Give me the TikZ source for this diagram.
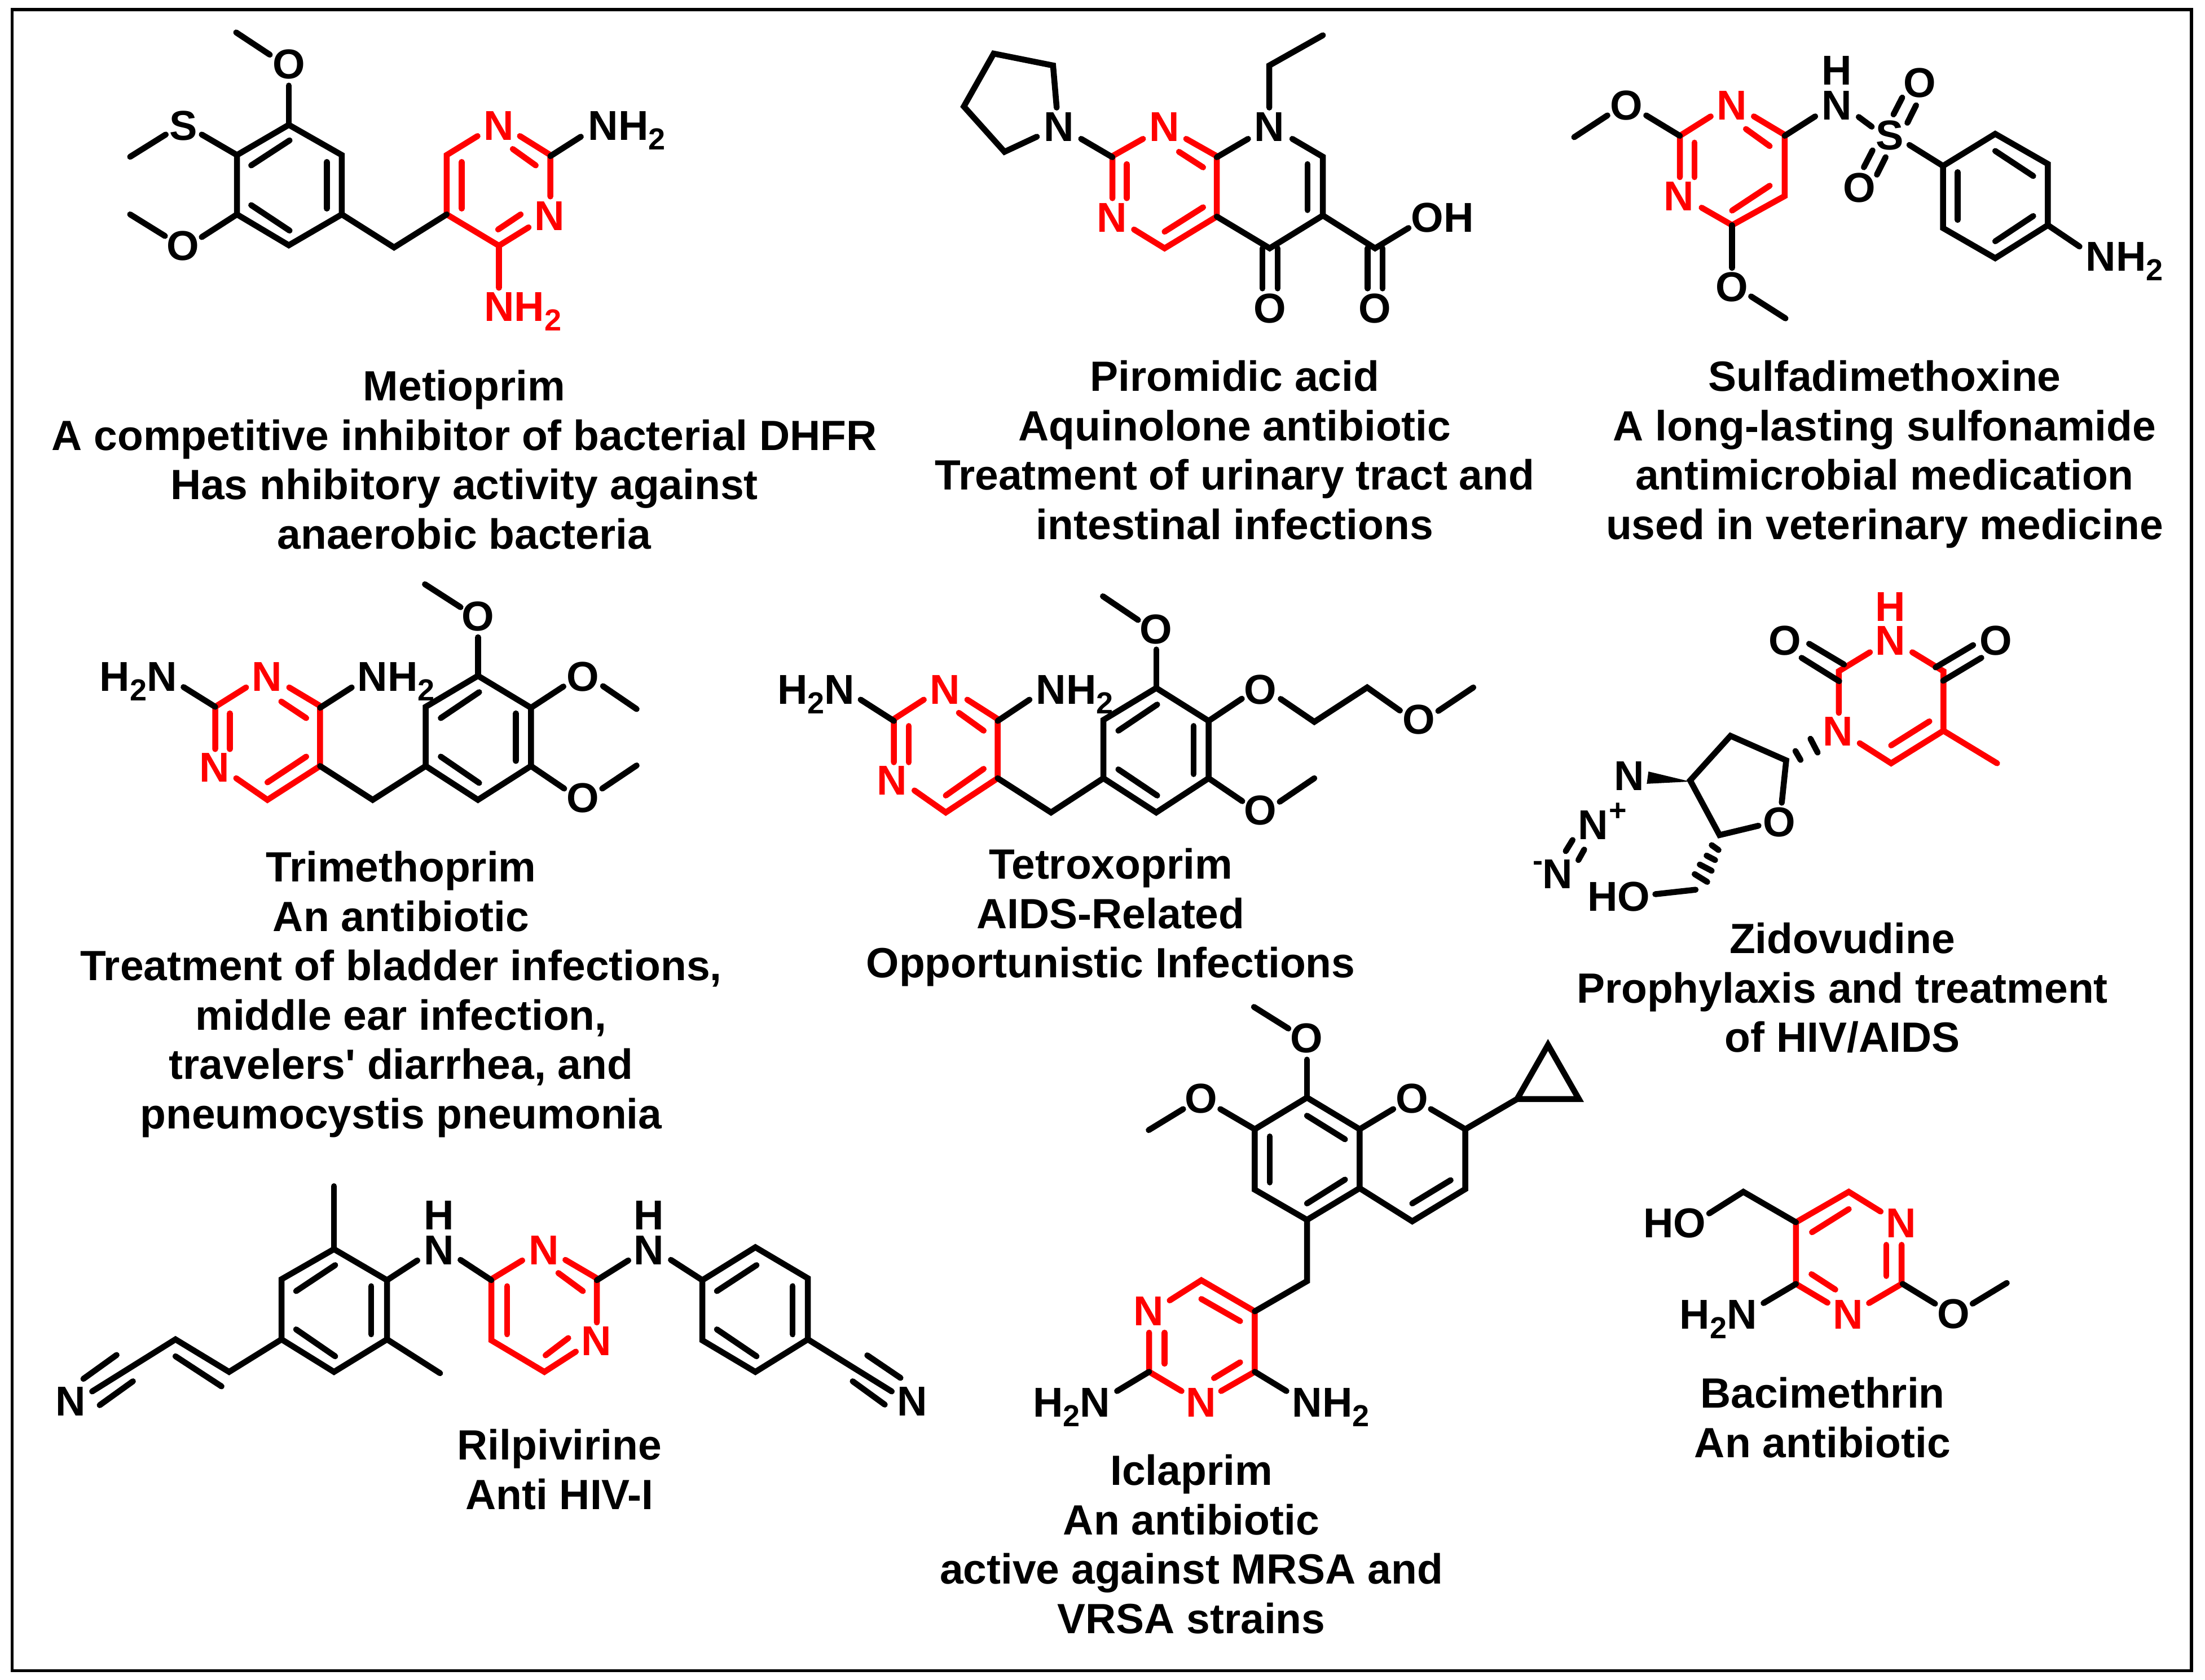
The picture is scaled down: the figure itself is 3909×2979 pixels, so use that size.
\documentclass[tikz,border=0pt]{standalone}
\usepackage{fontspec}
\setmainfont{Liberation Sans}[BoldFont={Liberation Sans Bold}]
\newcommand{\subtwo}{\raisebox{-17pt}{\fontsize{54}{54}\selectfont 2}}
\tikzset{
  bk/.style={draw=black,line width=10.5pt,line cap=round,line join=miter,miter limit=3},
  rd/.style={draw=red,line width=10.5pt,line cap=round,line join=miter,miter limit=3},
  atom/.style={inner sep=0pt,outer sep=0pt,anchor=base,black,font=\fontsize{74}{74}\selectfont\bfseries},
  ratom/.style={atom,red},
  wlab/.style={atom,anchor=base west,xshift=-5pt},
  rwlab/.style={wlab,red},
  tiny/.style={atom,font=\fontsize{54}{54}\selectfont\bfseries},
  capt/.style={inner sep=0pt,outer sep=0pt,anchor=north,align=center,black,yshift=2.5pt,font=\fontsize{75}{87.5}\selectfont\bfseries},
  frame/.style={draw=black,line width=5.5pt}
}
\begin{document}
\begin{tikzpicture}[x=1pt,y=-1pt]
\path[use as bounding box,fill=white] (0,0) rectangle (3909,2979);
\draw[frame] (21.5,17) rectangle (3885,2962.5);

% Metioprim
\begin{scope}[shift={(150,30)},x=0.7015pt,y=-0.3827pt]
\draw[rd] (915,915)--(915,640)--(993,552);
\draw[rd] (1100,552)--(1177,640)--(1177,832);
\draw[rd] (1082,612)--(1140,688);
\draw[rd] (953,672)--(953,888);
\draw[rd] (915,915)--(1047,1060)--(1122,975);
\draw[rd] (1045,985)--(1102,915);
\draw[rd] (1047,1060)--(1047,1255);
\draw[bk] (383,72)--(468,175);
\draw[bk] (516,318)--(516,500);
\draw[bk] (516,500)--(650,640)--(650,915)--(516,1058)--(385,915)--(385,640)--cycle;
\draw[bk] (421,688)--(518,572);
\draw[bk] (612,672)--(612,888);
\draw[bk] (421,872)--(518,990);
\draw[bk] (296,545)--(385,640);
\draw[bk] (205,545)--(115,648);
\draw[bk] (385,915)--(296,1020);
\draw[bk] (203,1015)--(115,915);
\draw[bk] (650,915)--(782,1068)--(915,915);
\draw[bk] (1177,645)--(1254,555);
\node[atom] (m1o1) at (516,287) {O};
\node[atom] (m1s) at (249,570) {S};
\node[atom] (m1o2) at (248,1128) {O};
\node[ratom] (m1n1) at (1046,570) {N};
\node[ratom] (m1n2) at (1175,988) {N};
\node[wlab] (m1nh1) at (1280,570) {NH\subtwo};
\node[rwlab] (m1nh2) at (1017,1410) {NH\subtwo};
\end{scope}

% Piromidic acid
\begin{scope}[shift={(1650,30)},x=0.6378pt,y=-0.3827pt]
\draw[rd] (590,565)--(505,645)--(505,840);
\draw[rd] (545,682)--(545,840);
\draw[rd] (710,565)--(795,645)--(795,925)--(650,1072)--(565,985);
\draw[rd] (690,625)--(757,697);
\draw[rd] (757,882)--(650,995);
\draw[bk] (350,420)--(340,225)--(175,170)--(92,415)--(205,625)--(295,555);
\draw[bk] (418,565)--(505,650);
\draw[bk] (795,650)--(882,565);
\draw[bk] (941,420)--(941,225)--(1090,85);
\draw[bk] (1005,565)--(1090,648)--(1090,920)--(942,1072)--(795,925);
\draw[bk] (1047,682)--(1047,895);
\draw[bk] (922,1072)--(922,1258);
\draw[bk] (964,1072)--(964,1258);
\draw[bk] (1090,920)--(1235,1072)--(1328,978);
\draw[bk] (1214,1072)--(1214,1258);
\draw[bk] (1256,1072)--(1256,1258);
\node[atom] (m2n1) at (356,577) {N};
\node[ratom] (m2n2) at (650,577) {N};
\node[ratom] (m2n3) at (503,997) {N};
\node[atom] (m2n4) at (941,577) {N};
\node[atom] (m2o1) at (942,1418) {O};
\node[atom] (m2o2) at (1234,1418) {O};
\node[wlab] (m2oh) at (1343,997) {OH};
\end{scope}

% Sulfadimethoxine
\begin{scope}[shift={(2750,60)},x=0.7015pt,y=-0.3444pt]
\draw[rd] (403,425)--(325,525)--(325,738);
\draw[rd] (362,560)--(362,738);
\draw[rd] (512,425)--(590,520)--(590,835)--(457,985)--(380,895);
\draw[rd] (492,490)--(552,578);
\draw[rd] (552,782)--(457,910);
\draw[bk] (58,532)--(142,420);
\draw[bk] (240,420)--(325,525);
\draw[bk] (590,525)--(667,425);
\draw[bk] (777,428)--(810,478);
\draw[bk] (865,415)--(887,328);
\draw[bk] (900,458)--(922,368);
\draw[bk] (790,687)--(812,600);
\draw[bk] (823,725)--(845,635);
\draw[bk] (905,572)--(990,680);
\draw[bk] (990,680)--(1122,515)--(1255,670)--(1255,985)--(1122,1155)--(990,1000)--cycle;
\draw[bk] (1122,603)--(1218,732);
\draw[bk] (1027,712)--(1027,958);
\draw[bk] (1122,1068)--(1218,938);
\draw[bk] (1255,985)--(1335,1095);
\draw[bk] (457,985)--(457,1205);
\draw[bk] (505,1352)--(592,1465);
\node[atom] (m3o1) at (190,443) {O};
\node[ratom] (m3n1) at (456,443) {N};
\node[ratom] (m3n2) at (323,910) {N};
\node[atom] (m3n3) at (721,443) {N};
\node[atom] (m3h) at (721,263) {H};
\node[atom] (m3s) at (855,597) {S};
\node[atom] (m3o2) at (931,328) {O};
\node[atom] (m3o3) at (778,868) {O};
\node[atom] (m3o4) at (457,1378) {O};
\node[wlab] (m3nh) at (1358,1220) {NH\subtwo};
\end{scope}

% Trimethoprim
\begin{scope}[shift={(150,1020)},x=0.7015pt,y=-0.3333pt]
\draw[rd] (408,597)--(330,700)--(330,925);
\draw[rd] (367,735)--(367,925);
\draw[rd] (517,597)--(595,695)--(595,1015)--(462,1195)--(383,1080);
\draw[rd] (497,672)--(560,760);
\draw[rd] (560,965)--(462,1102);
\draw[bk] (250,595)--(330,700);
\draw[bk] (595,705)--(675,597);
\draw[bk] (595,1015)--(728,1195)--(862,1015);
\draw[bk] (862,1015)--(862,700)--(994,535)--(1128,705)--(1128,1015)--(994,1195)--cycle;
\draw[bk] (900,760)--(997,622);
\draw[bk] (1090,735)--(1090,988);
\draw[bk] (900,965)--(997,1105);
\draw[bk] (994,535)--(994,330);
\draw[bk] (950,170)--(860,48);
\draw[bk] (1128,705)--(1210,592);
\draw[bk] (1310,590)--(1395,712);
\draw[bk] (1128,1015)--(1212,1135);
\draw[bk] (1308,1135)--(1395,1012);
\node[wlab] (m4nh1) at (45,617) {H\subtwo N};
\node[ratom] (m4n1) at (461,617) {N};
\node[wlab] (m4nh2) at (697,617) {NH\subtwo};
\node[ratom] (m4n2) at (328,1100) {N};
\node[atom] (m4o1) at (994,295) {O};
\node[atom] (m4o2) at (1259,617) {O};
\node[atom] (m4o3) at (1259,1262) {O};
\end{scope}

% Tetroxoprim
\begin{scope}[shift={(1350,1030)},x=0.8291pt,y=-0.3333pt]
\draw[rd] (347,632)--(283,735)--(283,965);
\draw[rd] (315,772)--(315,965);
\draw[rd] (440,632)--(505,735)--(505,1050)--(394,1232)--(327,1115);
\draw[rd] (422,702)--(475,797);
\draw[rd] (475,1000)--(394,1142);
\draw[bk] (212,632)--(283,745);
\draw[bk] (505,745)--(573,632);
\draw[bk] (505,1050)--(619,1232)--(731,1050);
\draw[bk] (731,1050)--(731,740)--(844,570)--(956,745)--(956,1050)--(844,1232)--cycle;
\draw[bk] (763,797)--(846,658);
\draw[bk] (924,772)--(924,1028);
\draw[bk] (763,1003)--(846,1142);
\draw[bk] (844,570)--(844,365);
\draw[bk] (805,208)--(730,82);
\draw[bk] (956,745)--(1027,627);
\draw[bk] (1110,628)--(1182,750)--(1295,567)--(1365,690);
\draw[bk] (1447,692)--(1522,567);
\draw[bk] (956,1050)--(1028,1172);
\draw[bk] (1108,1175)--(1182,1050);
\node[wlab] (m5nh1) at (40,655) {H\subtwo N};
\node[ratom] (m5n1) at (392,655) {N};
\node[wlab] (m5nh2) at (593,655) {NH\subtwo};
\node[ratom] (m5n2) at (279,1138) {N};
\node[atom] (m5o1) at (843,333) {O};
\node[atom] (m5o2) at (1067,655) {O};
\node[atom] (m5o3) at (1405,815) {O};
\node[atom] (m5o4) at (1067,1298) {O};
\end{scope}

% Zidovudine
\begin{scope}[shift={(2680,1030)},x=0.6059pt,y=-0.3954pt]
\draw[rd] (1048,320)--(957,405)--(957,592);
\draw[rd] (1172,320)--(1263,405)--(1263,672)--(1110,818)--(1018,728);
\draw[rd] (1222,630)--(1110,738);
\draw[rd] (1263,672)--(1420,818);
\draw[bk] (958,450)--(848,345);
\draw[bk] (972,375)--(870,282);
\draw[bk] (1240,388)--(1350,288);
\draw[bk] (1262,448)--(1374,345);
\draw[bk] (790,995)--(803,805)--(640,695)--(522,895)--(608,1140)--(722,1098);
\draw[bk] (830,763)--(845,803);
\draw[bk] (874,708)--(895,770);
\fill[black] (522,900)--(400,855)--(395,910)--cycle;
\draw[bk] (178,1162)--(158,1212);
\draw[bk] (212,1205)--(195,1252);
\draw[bk] (585,1185)--(605,1207);
\draw[bk] (570,1232)--(595,1252);
\draw[bk] (550,1272)--(585,1300);
\draw[bk] (535,1315)--(572,1350);
\draw[bk] (538,1385)--(420,1405);
\node[ratom] (m6n1) at (955,740) {N};
\node[ratom] (m6n2) at (1108,332) {N};
\node[ratom] (m6h) at (1108,180) {H};
\node[atom] (m6o1) at (800,333) {O};
\node[atom] (m6o2) at (1416,333) {O};
\node[atom] (m6o3) at (783,1147) {O};
\node[atom] (m6n3) at (344,940) {N};
\node[atom] (m6n4) at (238,1160) {N};
\node[tiny] (m6plus) at (310,1075) {+};
\node[atom] (m6n5) at (134,1380) {N};
\node[tiny] (m6minus) at (77,1300) {-};
\node[wlab] (m6ho) at (230,1480) {HO};
\end{scope}

% Rilpivirine
\begin{scope}[shift={(60,2080)},x=1.0332pt,y=-0.3333pt]
\draw[rd] (838,465)--(785,565)--(785,890)--(876,1058)--(930,950);
\draw[rd] (812,602)--(812,858);
\draw[rd] (878,970)--(917,878);
\draw[rd] (912,462)--(966,560)--(966,795);
\draw[rd] (900,532)--(942,628);
\draw[bk] (100,1162)--(243,885)--(335,1058)--(425,885);
\draw[bk] (85,1095)--(142,968);
\draw[bk] (113,1235)--(170,1108);
\draw[bk] (243,975)--(322,1135);
\draw[bk] (425,885)--(425,565)--(515,405)--(606,570)--(606,885)--(515,1058)--cycle;
\draw[bk] (450,628)--(517,490);
\draw[bk] (579,602)--(579,858);
\draw[bk] (450,832)--(517,975);
\draw[bk] (515,405)--(515,70);
\draw[bk] (606,885)--(697,1065);
\draw[bk] (606,570)--(658,465);
\draw[bk] (732,462)--(785,570);
\draw[bk] (966,570)--(1020,465);
\draw[bk] (1093,462)--(1147,570);
\draw[bk] (1147,570)--(1238,395)--(1328,560)--(1328,885)--(1238,1058)--(1147,890)--cycle;
\draw[bk] (1172,628)--(1240,490);
\draw[bk] (1302,602)--(1302,858);
\draw[bk] (1172,832)--(1240,975);
\draw[bk] (1328,885)--(1472,1162);
\draw[bk] (1430,970)--(1487,1090);
\draw[bk] (1405,1108)--(1460,1232);
\node[atom] (m7n1) at (63,1292) {N};
\node[atom] (m7n2) at (695,488) {N};
\node[atom] (m7h1) at (695,302) {H};
\node[ratom] (m7n3) at (875,488) {N};
\node[ratom] (m7n4) at (965,970) {N};
\node[atom] (m7n5) at (1055,488) {N};
\node[atom] (m7h2) at (1055,302) {H};
\node[atom] (m7n6) at (1507,1292) {N};
\end{scope}

% Iclaprim
\begin{scope}[shift={(1800,1760)},x=0.7015pt,y=-0.5102pt]
\draw[rd] (390,1070)--(470,1000)--(605,1108)--(605,1318)--(520,1385);
\draw[rd] (470,1065)--(568,1142);
\draw[rd] (568,1285)--(502,1340);
\draw[rd] (338,1182)--(338,1318)--(420,1385);
\draw[rd] (377,1182)--(377,1290);
\draw[bk] (603,50)--(690,125);
\draw[bk] (737,233)--(737,365);
\draw[bk] (737,365)--(870,475)--(870,680)--(737,790)--(605,685)--(605,475)--cycle;
\draw[bk] (737,428)--(833,510);
\draw[bk] (643,500)--(643,660);
\draw[bk] (737,733)--(833,650);
\draw[bk] (605,475)--(518,405);
\draw[bk] (424,405)--(337,478);
\draw[bk] (870,475)--(955,405);
\draw[bk] (1050,405)--(1137,475)--(1137,683)--(1003,795)--(870,680);
\draw[bk] (1100,652)--(1003,733);
\draw[bk] (1137,475)--(1268,370);
\draw[bk] (1268,370)--(1346,182)--(1424,370)--cycle;
\draw[bk] (737,790)--(737,1003)--(605,1108);
\draw[bk] (338,1318)--(257,1385);
\draw[bk] (605,1318)--(685,1385);
\node[atom] (m8o1) at (736,208) {O};
\node[atom] (m8o2) at (470,418) {O};
\node[atom] (m8o3) at (1002,418) {O};
\node[ratom] (m8n1) at (336,1158) {N};
\node[ratom] (m8n2) at (469,1474) {N};
\node[wlab] (m8nh1) at (52,1474) {H\subtwo N};
\node[wlab] (m8nh2) at (707,1474) {NH\subtwo};
\end{scope}

% Bacimethrin
\begin{scope}[shift={(2900,2080)},x=0.4592pt,y=-0.3333pt]
\draw[rd] (618,262)--(822,100)--(945,205);
\draw[rd] (680,315)--(822,192);
\draw[rd] (618,262)--(618,590)--(740,690);
\draw[rd] (678,538)--(770,620);
\draw[rd] (1026,382)--(1026,590)--(900,692);
\draw[rd] (967,382)--(967,548);
\draw[bk] (283,215)--(415,100)--(618,262);
\draw[bk] (618,590)--(493,692);
\draw[bk] (1030,590)--(1155,695);
\draw[bk] (1300,695)--(1432,585);
\node[wlab] (m9ho) at (40,343) {HO};
\node[ratom] (m9n1) at (1024,343) {N};
\node[ratom] (m9n2) at (820,830) {N};
\node[wlab] (m9nh) at (180,830) {H\subtwo N};
\node[atom] (m9o) at (1227,828) {O};
\end{scope}

% Captions
\node[capt] (c1) at (823,659) {Metioprim\\A competitive inhibitor of bacterial DHFR\\Has nhibitory activity against\\anaerobic bacteria};
\node[capt] (c2) at (2189,642) {Piromidic acid\\Aquinolone antibiotic\\Treatment of urinary tract and\\intestinal infections};
\node[capt] (c3) at (3341,642) {Sulfadimethoxine\\A long-lasting sulfonamide\\antimicrobial medication\\used in veterinary medicine};
\node[capt] (c4) at (711,1512) {Trimethoprim\\An antibiotic\\Treatment of bladder infections,\\middle ear infection,\\travelers\textquotesingle{} diarrhea, and\\pneumocystis pneumonia};
\node[capt] (c5) at (1969,1507) {Tetroxoprim\\AIDS-Related\\Opportunistic Infections};
\node[capt] (c6) at (3266,1639) {Zidovudine\\Prophylaxis and treatment\\of HIV/AIDS};
\node[capt] (c7) at (992,2537) {Rilpivirine\\Anti HIV-I};
\node[capt] (c8) at (2112,2582) {Iclaprim\\An antibiotic\\active against MRSA and\\VRSA strains};
\node[capt] (c9) at (3231,2445) {Bacimethrin\\An antibiotic};
\end{tikzpicture}
\end{document}
